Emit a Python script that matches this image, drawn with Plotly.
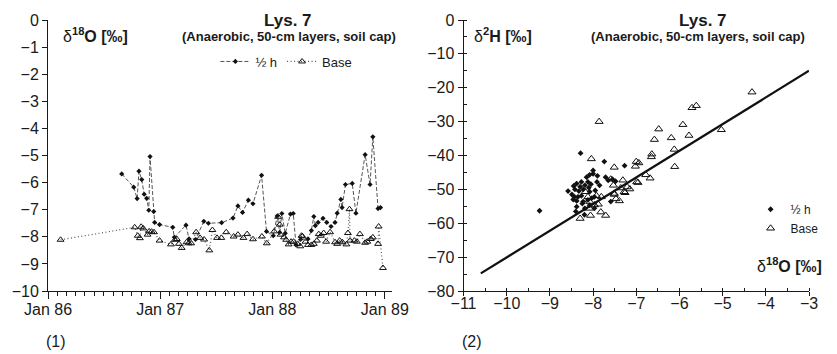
import plotly.graph_objects as go

# ---------------- Data: panel (1) time series ----------------
hh_dates = ["1986-08-29","1986-10-07","1986-10-18","1986-10-24","1986-11-02","1986-11-10","1986-11-18","1986-11-25","1986-11-29","1986-12-11",
            "1986-12-14","1986-12-30","1987-02-11","1987-02-16","1987-03-26","1987-04-05","1987-04-26","1987-05-23","1987-06-07","1987-07-20",
            "1987-08-26","1987-09-11","1987-09-26","1987-10-15","1987-10-30","1987-11-27","1987-12-13","1988-01-04","1988-01-17","1988-01-25",
            "1988-02-01","1988-02-12","1988-02-29","1988-03-09","1988-03-18","1988-04-02","1988-04-26","1988-05-07","1988-05-15","1988-05-20",
            "1988-05-29","1988-06-14","1988-06-26","1988-07-10","1988-07-23","1988-07-30","1988-08-11","1988-08-15","1988-08-26","1988-09-17",
            "1988-09-29","1988-10-29","1988-11-14","1988-11-23","1988-12-10","1988-12-18"]
hh_vals = [-5.68,-6.17,-6.59,-5.58,-5.89,-6.43,-6.58,-7.02,-5.04,-7.07,
           -7.47,-7.55,-7.65,-8.02,-7.57,-8.08,-8.10,-7.43,-7.50,-7.48,
           -7.31,-6.86,-7.10,-6.65,-6.78,-5.73,-7.80,-7.96,-7.23,-7.84,
           -7.14,-7.87,-7.16,-7.14,-8.30,-8.10,-8.08,-7.77,-7.25,-7.59,
           -7.47,-7.32,-7.47,-7.62,-7.47,-7.13,-6.62,-6.92,-6.07,-6.03,
           -7.13,-4.97,-6.07,-4.31,-6.96,-6.92]

base_dates = ["1986-02-11","1986-10-10","1986-10-20","1986-10-27","1986-10-31","1986-11-07","1986-11-21","1986-11-26","1986-12-04","1986-12-12",
              "1986-12-30","1987-02-05","1987-02-18","1987-02-24","1987-03-03","1987-03-12","1987-03-28","1987-04-04","1987-04-12","1987-04-28",
              "1987-05-11","1987-05-24","1987-06-10","1987-06-20","1987-07-05","1987-07-19","1987-08-04","1987-08-28","1987-09-11","1987-09-29",
              "1987-10-11","1987-10-30","1987-11-28","1987-12-14","1988-01-07","1988-01-20","1988-01-25","1988-01-28","1988-02-08","1988-02-15",
              "1988-02-23","1988-03-02","1988-03-10","1988-03-23","1988-04-01","1988-04-05","1988-04-08","1988-04-18","1988-04-26","1988-05-07",
              "1988-05-15","1988-05-25","1988-05-31","1988-06-07","1988-06-16","1988-06-24","1988-07-07","1988-07-23","1988-07-30","1988-08-07",
              "1988-08-16","1988-08-29","1988-09-03","1988-09-08","1988-09-10","1988-09-24","1988-10-02","1988-10-12","1988-10-29","1988-11-05",
              "1988-11-16","1988-11-23","1988-12-10","1988-12-12","1988-12-26"]
base_vals = [-8.11,-7.65,-7.96,-8.05,-7.63,-7.69,-7.92,-7.80,-7.81,-7.83,
             -8.14,-8.28,-8.11,-8.08,-8.26,-8.41,-8.20,-8.24,-8.24,-7.83,
             -8.04,-8.10,-8.50,-7.75,-8.04,-8.04,-7.83,-7.99,-7.92,-8.04,
             -7.90,-8.09,-7.99,-8.24,-7.80,-7.26,-7.55,-7.92,-8.02,-8.11,
             -8.28,-8.18,-8.18,-8.26,-8.35,-7.96,-7.98,-8.18,-8.30,-8.30,
             -8.26,-8.14,-7.90,-7.96,-7.86,-8.18,-7.83,-8.20,-8.26,-8.14,
             -8.20,-8.28,-7.86,-6.98,-8.14,-8.14,-8.18,-7.90,-8.22,-8.18,
             -8.08,-8.02,-8.26,-7.62,-9.15]

# ---------------- Data: panel (2) dual isotope plot ----------------
hh_d18o = [-9.24,-8.29,-7.74,-7.27,-8.58,-8.00,-8.00,-8.08,-8.12,-7.91,-7.71,-7.65,-8.38,-8.27,-8.19,-8.42,
           -8.23,-8.33,-8.49,-8.43,-8.27,-8.08,-7.97,-8.38,-8.23,-8.12,-8.38,-8.19,-8.08,-7.59,-7.95,-7.85,
           -7.55,-7.48,-8.03,-8.46,-7.97,-8.35,-8.15,-8.30,-8.10,-8.40,-8.20,-8.05,-8.25,-7.90,-8.45]
hh_d2h = [-56.3,-39.3,-41.8,-43.0,-50.5,-44.4,-45.4,-45.7,-47.8,-47.8,-46.4,-47.3,-48.3,-47.8,-48.8,-50.0,
          -50.0,-50.5,-51.5,-52.2,-51.9,-50.7,-52.2,-53.4,-53.6,-53.1,-55.1,-55.6,-54.7,-53.6,-50.3,-48.8,
          -47.0,-47.6,-52.6,-53.0,-55.6,-52.2,-46.4,-49.2,-49.5,-56.5,-57.5,-48.5,-54.2,-46.0,-49.0]

base_d18o = [-4.32,-5.71,-5.61,-7.86,-6.48,-5.92,-5.03,-6.58,-6.19,-5.78,-6.64,-6.65,-6.12,-6.11,-7.00,-6.94,
             -7.02,-7.51,-8.04,-7.59,-7.31,-6.78,-6.68,-6.96,-7.21,-7.15,-7.36,-7.28,-7.53,-7.51,-7.47,-7.39,
             -7.92,-7.81,-7.88,-8.08,-7.97,-8.08,-8.06,-8.30,-7.82,-7.71,-8.18,-8.12,-7.26,-7.51,-6.99]
base_d2h = [-21.3,-25.9,-25.3,-30.0,-32.2,-30.9,-32.4,-35.3,-34.8,-34.1,-39.6,-40.4,-38.2,-43.3,-41.8,-42.2,
            -43.2,-43.5,-41.0,-47.0,-47.3,-45.7,-46.7,-48.0,-49.3,-49.9,-49.6,-50.7,-48.8,-51.5,-52.8,-53.4,
            -51.9,-52.2,-54.4,-53.6,-54.6,-55.6,-57.7,-58.6,-56.7,-57.7,-50.7,-52.2,-51.0,-51.2,-47.8]

gmwl_d18o = [-10.6, -3.0]
gmwl_d2h = [-74.8, -15.0]

# ---------------- Layout helpers ----------------
W, H = 837, 354
ML, MR, MT, MB = 43, 12, 15, 63
PW, PH = W - ML - MR, H - MT - MB

def px(x):
    return (x - ML) / PW

def py(y):
    return (H - MB - y) / PH

FONT = "Liberation Sans, Arial, sans-serif"
INK = "#1a1a1a"

fig = go.Figure()

fig.add_trace(go.Scatter(
    x=hh_dates, y=hh_vals, mode="lines+markers", name="½ h",
    line=dict(color="#555555", width=1, dash="4px,2px"),
    marker=dict(symbol="diamond", size=4, color="#111111"),
    xaxis="x", yaxis="y", legend="legend"))
fig.add_trace(go.Scatter(
    x=base_dates, y=base_vals, mode="lines+markers", name="Base",
    line=dict(color="#555555", width=1.2, dash="1px,2.5px"),
    marker=dict(symbol="triangle-up-open", size=6, color="#111111", line=dict(width=1)),
    xaxis="x", yaxis="y", legend="legend"))

fig.add_trace(go.Scatter(
    x=gmwl_d18o, y=gmwl_d2h, mode="lines", showlegend=False,
    line=dict(color="#111111", width=2.2), xaxis="x2", yaxis="y2"))
fig.add_trace(go.Scatter(
    x=hh_d18o, y=hh_d2h, mode="markers", name="½ h",
    marker=dict(symbol="diamond", size=4.5, color="#111111"),
    xaxis="x2", yaxis="y2", legend="legend2"))
fig.add_trace(go.Scatter(
    x=base_d18o, y=base_d2h, mode="markers", name="Base",
    marker=dict(symbol="triangle-up-open", size=7, color="#111111", line=dict(width=1)),
    xaxis="x2", yaxis="y2", legend="legend2"))

axis_common = dict(showgrid=False, zeroline=False, showline=True, linecolor=INK, linewidth=1,
                   tickcolor=INK, tickfont=dict(family=FONT, size=16, color=INK), ticks="outside")

fig.update_layout(
    width=W, height=H, margin=dict(l=ML, r=MR, t=MT, b=MB),
    paper_bgcolor="white", plot_bgcolor="white",
    font=dict(family=FONT, color=INK),
    xaxis=dict(axis_common, domain=[0, px(397)], type="date",
               range=["1986-01-01", "1989-01-26"], tick0="1986-01-01", dtick="M12",
               tickformat="%b %y", ticklen=7, anchor="y", ticklabelstandoff=-3,
               minor=dict(dtick="M1", ticks="outside", ticklen=4, tickcolor=INK)),
    yaxis=dict(axis_common, domain=[0, 1], range=[-10, 0], dtick=1, ticklen=5, anchor="x"),
    xaxis2=dict(axis_common, domain=[px(470), 1], range=[-11, -3], dtick=1, ticklen=4, anchor="y2",
                ticklabelstandoff=-6,
                minor=dict(dtick=0.5, ticks="inside", ticklen=3, tickcolor=INK)),
    yaxis2=dict(axis_common, domain=[0, 1], range=[-80, 0], dtick=10, ticklen=5, anchor="x2",
                minor=dict(dtick=5, ticks="inside", ticklen=3, tickcolor=INK)),
    legend=dict(orientation="h", x=px(215), y=py(42), xanchor="left", yanchor="top",
                font=dict(family=FONT, size=13, color=INK), bgcolor="rgba(0,0,0,0)",
                itemwidth=30, tracegroupgap=0),
    legend2=dict(orientation="v", x=px(765), y=py(193), xanchor="left", yanchor="top",
                 font=dict(family=FONT, size=12, color=INK), bgcolor="rgba(0,0,0,0)",
                 itemwidth=30, tracegroupgap=0),
)

def ann(text, x, y, size, xanchor="center"):
    fig.add_annotation(text=text, x=px(x), y=py(y), xref="paper", yref="paper",
                       xanchor=xanchor, yanchor="middle", showarrow=False,
                       font=dict(family=FONT, size=size, color=INK))

ann("<b>Lys. 7</b>", 290, 15, 17)
ann("<b>(Anaerobic, 50-cm layers, soil cap)</b>", 291, 32, 13)
ann("<b>Lys. 7</b>", 716, 15, 17)
ann("<b>(Anaerobic, 50-cm layers, soil cap)</b>", 711, 32, 13)
ann("δ<b><sup>18</sup>O [‰]</b>", 56, 30, 16, "left")
ann("δ<b><sup>2</sup>H [‰]</b>", 479, 30, 16, "left")
ann("δ<b><sup>18</sup>O [‰]</b>", 840, 265, 16, "right")
ann("(1)", 51, 342, 16)
ann("(2)", 479, 342, 16)

fig.write_html("out.html")
